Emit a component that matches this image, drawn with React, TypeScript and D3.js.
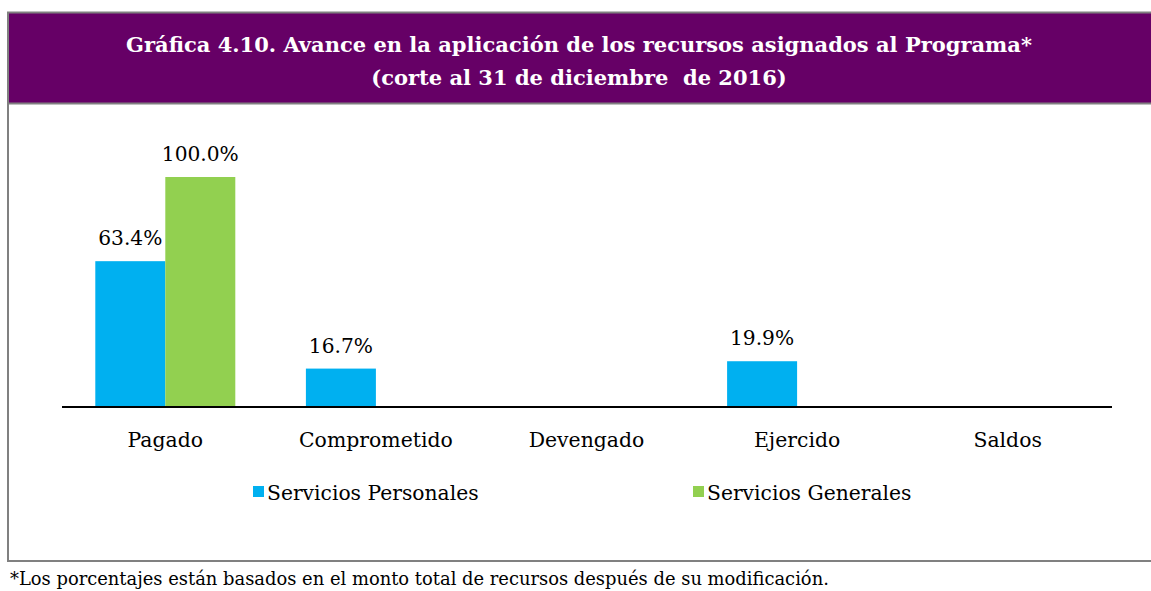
import React from "react";
import * as d3 from "d3";

const categories = ["Pagado", "Comprometido", "Devengado", "Ejercido", "Saldos"];
const seriesNames = ["Servicios Personales", "Servicios Generales"];
const serviciosPersonales: (number | null)[] = [63.4, 16.7, null, 19.9, null];
const serviciosGenerales: (number | null)[] = [100.0, null, null, null, null];
const colors = ["#00B0F0", "#92D050"];
const titleLines = [
  "Gráfica 4.10. Avance en la aplicación de los recursos asignados al Programa*",
  "(corte al 31 de diciembre  de 2016)",
];
const footnote =
  "*Los porcentajes están basados en el monto total de recursos después de su modificación.";

const W = 1151;
const H = 591;
const FONT = "'DejaVu Serif', serif";

export default function App() {
  const x0 = d3.scaleBand<string>().domain(categories).range([60, 1113]).paddingInner(0).paddingOuter(0);
  const x1 = d3.scaleBand<string>().domain(seriesNames).range([-70, 70]);
  const y = d3.scaleLinear().domain([0, 100]).range([407, 177]);
  const series = [serviciosPersonales, serviciosGenerales];

  return (
    <svg
      width={W}
      height={H}
      style={{ position: "absolute", left: 0, top: 0 }}
      fontFamily={FONT}
    >
      <rect x={0} y={0} width={W} height={H} fill="#fff" />
      {/* title box */}
      <rect x={8} y={13} width={W - 8} height={90} fill="#660066" />
      <line x1={7} x2={W} y1={12.5} y2={12.5} stroke="#808080" strokeWidth={2} />
      <line x1={7} x2={W} y1={103.5} y2={103.5} stroke="#808080" strokeWidth={2} />
      <line x1={8} x2={8} y1={12} y2={562} stroke="#808080" strokeWidth={2} />
      <line x1={7} x2={W} y1={561} y2={561} stroke="#808080" strokeWidth={2} />
      {titleLines.map((t, i) => (
        <text
          key={i}
          x={579}
          y={52 + i * 33}
          textAnchor="middle"
          fill="#fff"
          fontWeight="bold"
          fontSize={21}
          style={{ whiteSpace: "pre" }}
        >
          {t}
        </text>
      ))}
      {/* bars */}
      {series.map((vals, si) =>
        vals.map((v, ci) =>
          v == null ? null : (
            <g key={`${si}-${ci}`}>
              <rect
                x={x0(categories[ci])! + x0.bandwidth() / 2 + x1(seriesNames[si])!}
                y={y(v)}
                width={x1.bandwidth()}
                height={y(0) - y(v)}
                fill={colors[si]}
              />
              <text
                x={x0(categories[ci])! + x0.bandwidth() / 2 + x1(seriesNames[si])! + x1.bandwidth() / 2}
                y={y(v) - 16}
                textAnchor="middle"
                fontSize={20.2}
                fill="#000"
              >
                {v.toFixed(1) + "%"}
              </text>
            </g>
          )
        )
      )}
      {/* axis */}
      <line x1={62} x2={1112} y1={407} y2={407} stroke="#000" strokeWidth={2} />
      {categories.map((c) => (
        <text
          key={c}
          x={x0(c)! + x0.bandwidth() / 2}
          y={447}
          textAnchor="middle"
          fontSize={20.4}
          fill="#000"
        >
          {c}
        </text>
      ))}
      {/* legend */}
      {seriesNames.map((s, i) => {
        const lx = [253, 693][i];
        return (
          <g key={s}>
            <rect x={lx} y={486} width={11} height={11} fill={colors[i]} />
            <text x={lx + 14} y={500} fontSize={20.3} fill="#000">
              {s}
            </text>
          </g>
        );
      })}
      <text x={10} y={585} fontSize={17.9} fill="#000">
        {footnote}
      </text>
    </svg>
  );
}
